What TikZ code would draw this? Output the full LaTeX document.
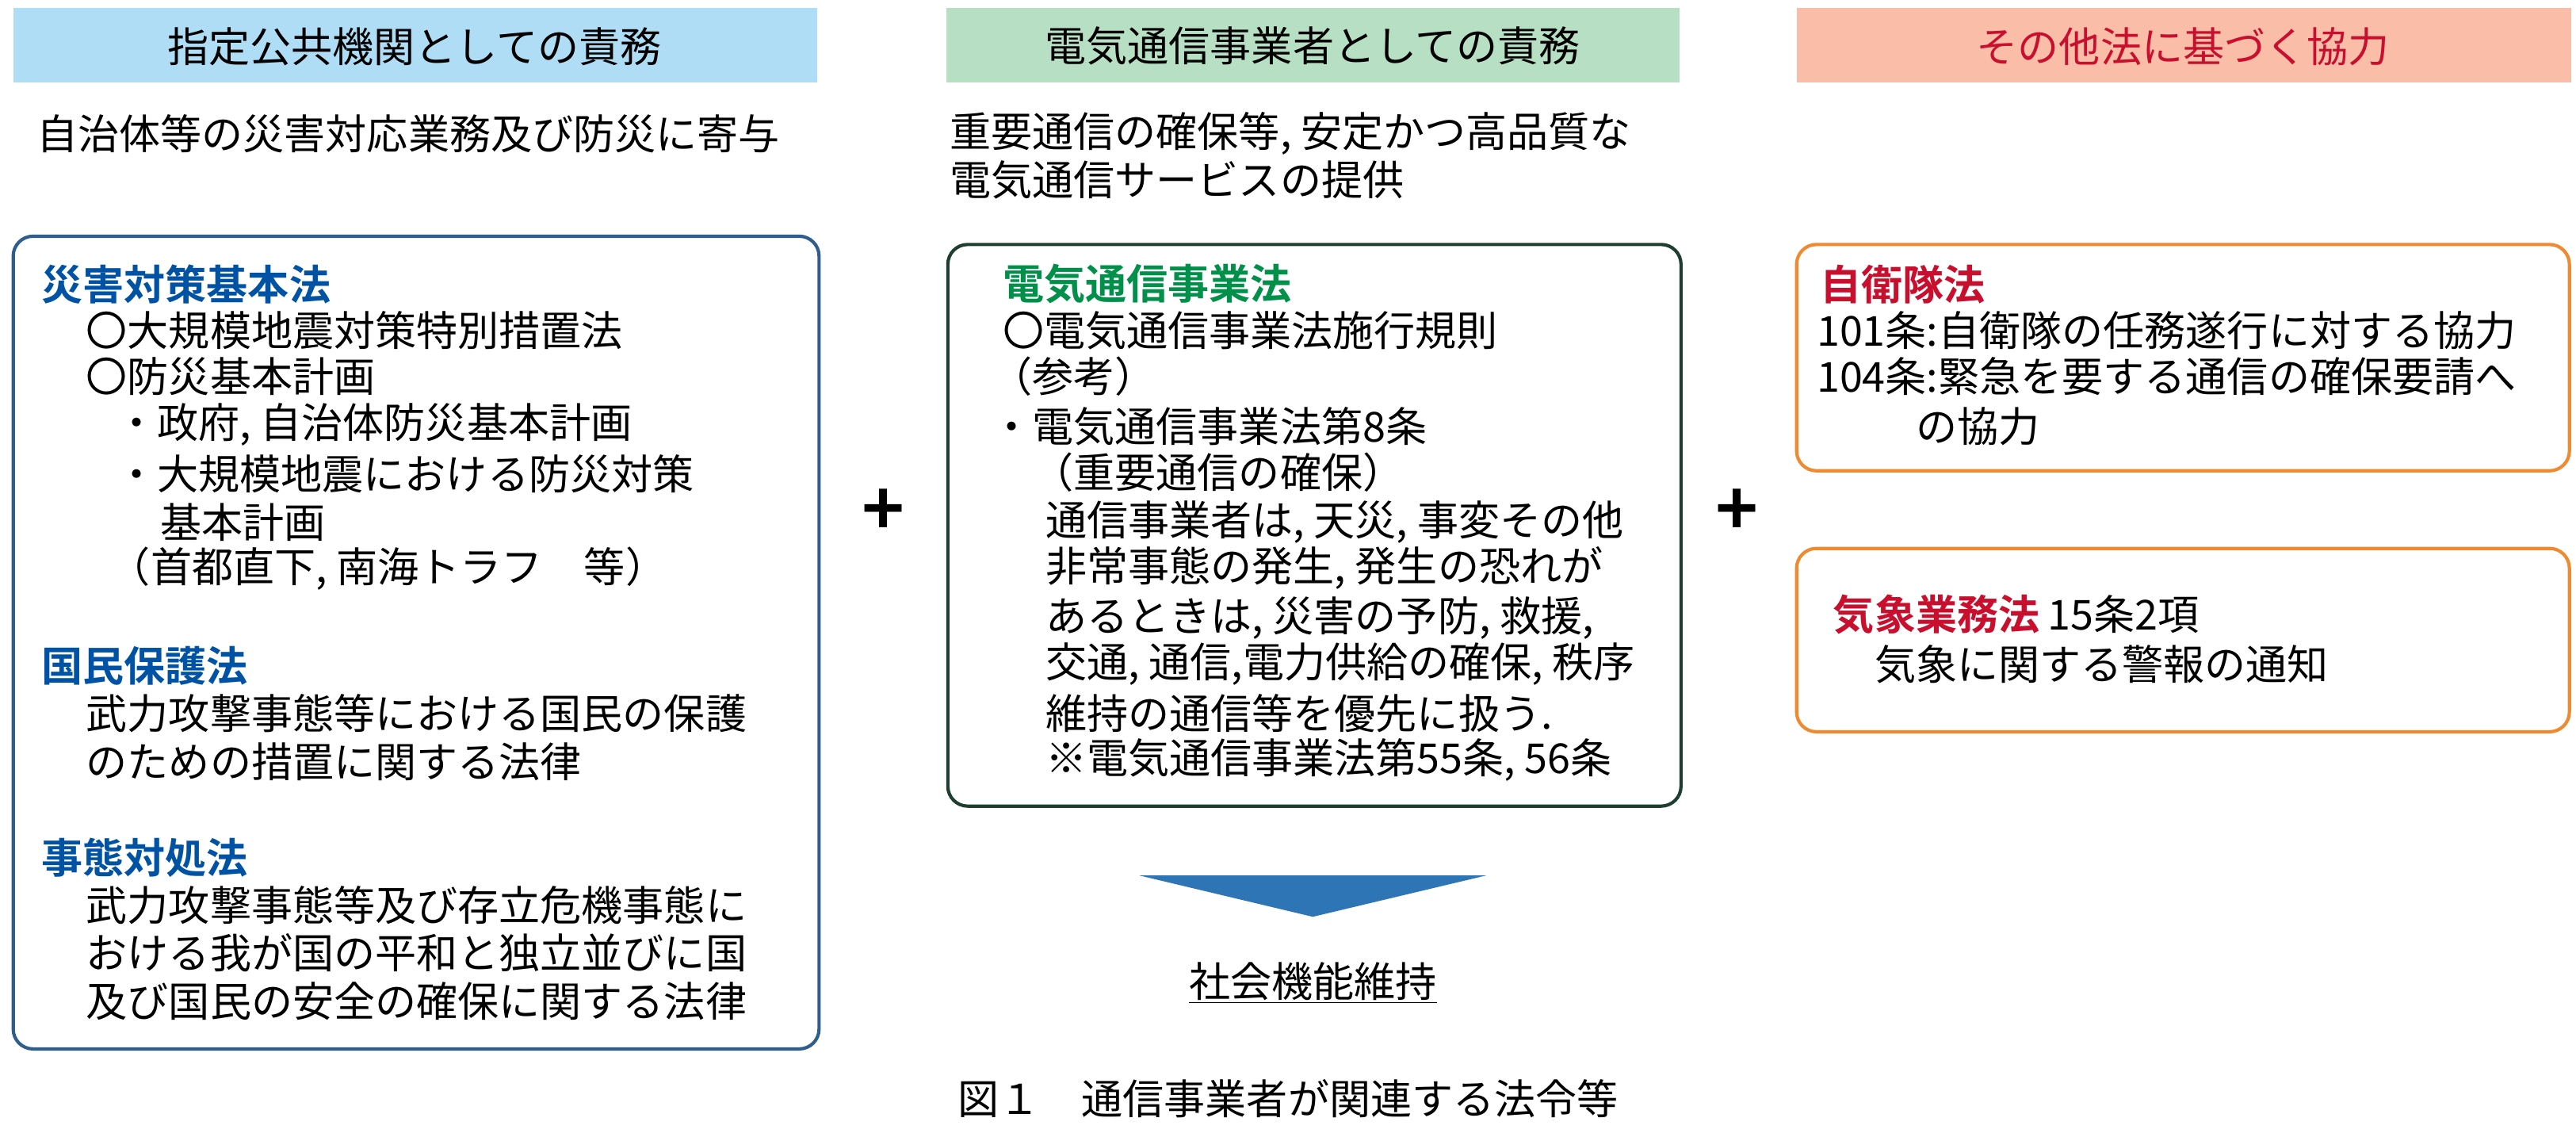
\documentclass[tikz,border=0pt]{standalone}
\usepackage{fontspec}
\setmainfont{Noto Sans CJK JP}[BoldFont={Noto Sans CJK JP Bold}]
\definecolor{hblue}{HTML}{AEDDF5}
\definecolor{hgreen}{HTML}{B6DFC4}
\definecolor{hsalmon}{HTML}{F9BDA8}
\definecolor{tblue}{HTML}{0052A4}
\definecolor{tgreen}{HTML}{00904A}
\definecolor{tred}{HTML}{C8102E}
\definecolor{bblue}{HTML}{2F5D8C}
\definecolor{bgreen}{HTML}{1E3F30}
\definecolor{borange}{HTML}{F08A30}
\definecolor{arrblue}{HTML}{2E75B6}
\begin{document}
\begin{tikzpicture}[x=1pt,y=-1pt,
  t/.style={anchor=west,inner sep=0pt,font=\fontsize{25}{29}\selectfont},
  hd/.style={anchor=west,inner sep=0pt,font=\fontsize{25}{29}\selectfont\bfseries},
  hdr/.style={inner sep=0pt,font=\fontsize{25}{29}\selectfont},
  box/.style={rounded corners=12pt,line width=2pt}]
\useasboundingbox (0,0) rectangle (1560,688);
\fill[white] (0,0) rectangle (1560,688);
% headers
\fill[hblue] (8,5) rectangle (495,50);
\fill[hgreen] (573,5) rectangle (1017,50);
\fill[hsalmon] (1088,5) rectangle (1557,50);
\node[hdr] (h1) at (251,28) {指定公共機関としての責務};
\node[hdr] (h2) at (795,28) {電気通信事業者としての責務};
\node[hdr,text=tred] (h3) at (1322,28) {その他法に基づく協力};
\node[t] (s1) at (22,81) {自治体等の災害対応業務及び防災に寄与};
\node[t] (s2) at (575,81) {重要通信の確保等, 安定かつ高品質な};
\node[t] (s3) at (575,109) {電気通信サービスの提供};
% boxes
\draw[box,bblue] (8,143) rectangle (496,635);
\draw[box,bgreen] (574,148) rectangle (1018,488);
\draw[box,borange] (1088,148) rectangle (1556,285);
\draw[box,borange] (1088,332) rectangle (1556,443);
% left box
\node[hd,text=tblue] (a1) at (25,172) {災害対策基本法};
\node[t] (a2) at (52,200) {〇大規模地震対策特別措置法};
\node[t] (a3) at (52,228) {〇防災基本計画};
\node[t] (a4) at (70,257) {・政府, 自治体防災基本計画};
\node[t] (a5) at (70,287) {・大規模地震における防災対策};
\node[t] (a6) at (97,316) {基本計画};
\node[t] (a7) at (66,344) {（首都直下, 南海トラフ　等）};
\node[hd,text=tblue] (a8) at (25,403) {国民保護法};
\node[t] (a9) at (52,432) {武力攻撃事態等における国民の保護};
\node[t] (a10) at (52,461) {のための措置に関する法律};
\node[hd,text=tblue] (a11) at (25,519) {事態対処法};
\node[t] (a12) at (52,548) {武力攻撃事態等及び存立危機事態に};
\node[t] (a13) at (52,577) {おける我が国の平和と独立並びに国};
\node[t] (a14) at (52,606) {及び国民の安全の確保に関する法律};
% middle box
\node[hd,text=tgreen] (b1) at (607,172) {電気通信事業法};
\node[t] (b2) at (607,200) {〇電気通信事業法施行規則};
\node[t] (b3) at (600,228) {（参考）};
\node[t] (b4) at (600,258) {・電気通信事業法第8条};
\node[t] (b5) at (625,286) {（重要通信の確保）};
\node[t] (b6) at (633,316) {通信事業者は, 天災, 事変その他};
\node[t] (b7) at (633,344) {非常事態の発生, 発生の恐れが};
\node[t] (b8) at (633,374) {あるときは, 災害の予防, 救援,};
\node[t] (b9) at (633,402) {交通, 通信,電力供給の確保, 秩序};
\node[t] (b10) at (633,432) {維持の通信等を優先に扱う.};
\node[t] (b11) at (633,460) {※電気通信事業法第55条, 56条};
% right boxes
\node[hd,text=tred] (c1) at (1102,172) {自衛隊法};
\node[t] (c2) at (1100,200) {101条:自衛隊の任務遂行に対する協力};
\node[t] (c3) at (1100,228) {104条:緊急を要する通信の確保要請へ};
\node[t] (c4) at (1160,258) {の協力};
\node[hd,text=tred] (d1) at (1110,372) {気象業務法};
\node[t] (d2) at (1240,372) {15条2項};
\node[t] (d3) at (1135,402) {気象に関する警報の通知};
% plus signs
\node[inner sep=0pt,font=\fontsize{44}{44}\selectfont\bfseries] (p1) at (535,310) {+};
\node[inner sep=0pt,font=\fontsize{44}{44}\selectfont\bfseries] (p2) at (1052,310) {+};
% arrow
\fill[arrblue] (690,530) -- (900,530) -- (795,555) -- cycle;
\node[t,anchor=center] (r) at (795,595) {\underline{社会機能維持}};
\node[t,anchor=center] (cap) at (780,665) {図１　通信事業者が関連する法令等};
\end{tikzpicture}
\end{document}
